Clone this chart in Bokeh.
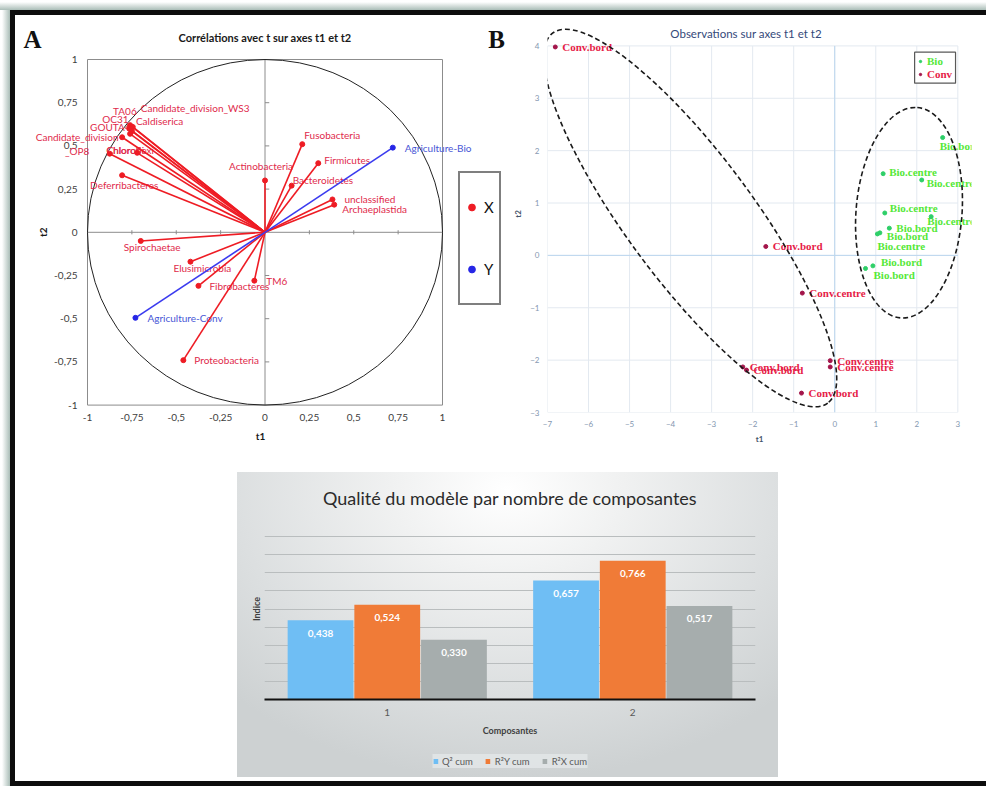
import math
from bokeh.plotting import figure
from bokeh.models import (Range1d, FactorRange, FixedTicker, ColumnDataSource, Legend,
                          LegendItem, Label, BoxAnnotation, Spacer)
from bokeh.layouts import row, column
from bokeh.transform import dodge
from bokeh.core.properties import value
from bokeh.embed import file_html
from bokeh.resources import INLINE

SANS = "Lato"
SERIF = "Liberation Serif"

# ---------------- Panel A data : correlations with t on axes t1 / t2 ----------------
A_X_NAMES = ["TA06", "Candidate_division_WS3", "OC31", "Caldiserica", "GOUTA4",
             "Candidate_division_OP8", "Chloroflexi", "Chlorobi", "Deferribacteres",
             "Actinobacteria", "Fusobacteria", "Firmicutes", "Bacteroidetes",
             "unclassified", "Archaeplastida", "Spirochaetae", "Elusimicrobia",
             "Fibrobacteres", "TM6", "Proteobacteria"]
A_X_T1 = [-0.76, -0.745, -0.765, -0.75, -0.76, -0.805, -0.72, -0.875, -0.805,
          0.0, 0.21, 0.30, 0.15, 0.38, 0.39, -0.70, -0.42, -0.375, -0.06, -0.46]
A_X_T2 = [0.62, 0.61, 0.60, 0.585, 0.57, 0.55, 0.46, 0.455, 0.33,
          0.30, 0.51, 0.40, 0.27, 0.19, 0.16, -0.05, -0.17, -0.31, -0.28, -0.74]
A_Y_NAMES = ["Agriculture-Bio", "Agriculture-Conv"]
A_Y_T1 = [0.72, -0.73]
A_Y_T2 = [0.49, -0.495]
A_TICKS = [-1, -0.75, -0.5, -0.25, 0, 0.25, 0.5, 0.75, 1]
A_TICK_LABELS = ["-1", "-0,75", "-0,5", "-0,25", "0", "0,25", "0,5", "0,75", "1"]
A_LEGEND = ["X", "Y"]

# label placement (screen pixels relative to the point) - layout only
A_X_DX = [-17, 8, -27, 4, -40, -45, -31, -3, -32, -4, 2, 6, 1, 12, 8, -17, -17, 11, 12, 11]
A_X_DY = [-14, -19, -10, -10, -7, 7, -3, -4, 10, -14, -9, -3, -6, 0, 4, 6, 6, 0, 0, 0]
A_X_ALIGN = ["left"] * 5 + ["center"] + ["left"] * 3 + ["center"] + ["left"] * 10
A_Y_DX = [12, 12]
A_Y_DY = [0, 0]

# ---------------- Panel B data : observations on axes t1 / t2 ----------------
B_CONV_T1 = [-6.81, -1.68, -0.79, -2.24, -2.15, -0.11, -0.11, -0.81]
B_CONV_T2 = [3.98, 0.17, -0.72, -2.13, -2.19, -2.01, -2.13, -2.63]
B_CONV_LABELS = ["Conv.bord", "Conv.bord", "Conv.centre", "Conv.bord", "Conv.bord",
                 "Conv.centre", "Conv.centre", "Conv.bord"]
B_BIO_T1 = [2.63, 1.18, 2.12, 1.22, 2.35, 1.33, 1.10, 1.04, 0.93, 0.75]
B_BIO_T2 = [2.25, 1.56, 1.44, 0.81, 0.74, 0.52, 0.43, 0.41, -0.20, -0.25]
B_BIO_LABELS = ["Bio.bord", "Bio.centre", "Bio.centre", "Bio.centre", "Bio.centre",
                "Bio.bord", "Bio.bord", "Bio.centre", "Bio.bord", "Bio.bord"]
B_GROUPS = ["Bio", "Conv"]
B_XTICKS = [-7, -6, -5, -4, -3, -2, -1, 0, 1, 2, 3]
B_YTICKS = [-3, -2, -1, 0, 1, 2, 3, 4]
# label placement (screen pixels)
B_CONV_DX = [7] * 8
B_CONV_DY = [0] * 8
B_BIO_DX = [-3, 6, 5, 5, -4, 7, 7, 0, 8, 8]
B_BIO_DY = [8, -2, 3, -5, 4, 0, 3, 12, -4, 7]
# hand-drawn dashed cluster outlines (centre in data, size in screen px)
B_OUTLINE_X = [-3.52, 1.81]
B_OUTLINE_Y = [0.714, 0.815]
B_OUTLINE_W = [461, 211]
B_OUTLINE_H = [126, 106]
B_OUTLINE_ANGLE = [-0.932, 1.492]

# ---------------- Panel C data : model quality ----------------
C_CATS = ["1", "2"]
C_SERIES = ["Q\u00b2 cum", "R\u00b2Y cum", "R\u00b2X cum"]
C_Q2 = [0.438, 0.657]
C_R2Y = [0.524, 0.766]
C_R2X = [0.330, 0.517]
C_GRID = [0.1, 0.2, 0.3, 0.4, 0.5, 0.6, 0.7, 0.8, 0.9, 1.0]

# ---------------- colours ----------------
RED_LINE = "#ee1c24"
RED_TEXT = "#e02a4b"
BLUE_LINE = "#3b3bef"
BLUE_TEXT = "#4756d6"
BIO_DOT = "#2ecf68"
BIO_TEXT = "#55e838"
CONV_DOT = "#a3154a"
CONV_TEXT = "#e61c47"
C_COLORS = ["#6fbef4", "#f07b37", "#a6adad"]
FRAME = "#0d0d0d"
AXIS_GREY = "#8c8c8c"

# ======================= Panel A =======================
# figure 495 x 457 ; frame spans the whole width (so long labels are not clipped)
A_W, A_H, A_BOTTOM = 495, 457, 60
A_PX_X, A_PX_Y = 177.5, 172.8          # pixels per unit
A_FRAME_W, A_FRAME_H = A_W - 5, A_H - A_BOTTOM
A_X0 = -1 - 72 / A_PX_X                 # unit box left edge 72 px inside the frame
A_Y1 = 1 + 44 / A_PX_Y                  # unit box top 44 px below the frame top
pA = figure(width=A_W, height=A_H,
            x_range=Range1d(A_X0, A_X0 + A_FRAME_W / A_PX_X),
            y_range=Range1d(A_Y1 - A_FRAME_H / A_PX_Y, A_Y1),
            output_backend="svg", toolbar_location=None, title=None,
            min_border_left=0, min_border_right=5, min_border_top=0,
            min_border_bottom=A_BOTTOM, x_axis_label="t1")
pA.yaxis.visible = False
pA.grid.visible = False
pA.outline_line_color = None
xa = pA.xaxis[0]
xa.ticker = FixedTicker(ticks=A_TICKS)
xa.bounds = (A_TICKS[0], A_TICKS[-1])
xa.major_label_overrides = dict(zip(A_TICKS, A_TICK_LABELS))
xa.axis_line_color = None
xa.major_tick_line_color = None
xa.minor_tick_line_color = None
xa.major_tick_out = 0
xa.major_tick_in = 0
xa.major_label_text_font = SANS
xa.major_label_text_font_size = "10px"
xa.major_label_text_color = "#404040"
xa.major_label_standoff = 1
xa.axis_label_text_font = SANS
xa.axis_label_text_font_size = "10px"
xa.axis_label_text_font_style = "bold"
xa.axis_label_text_color = "#1a1a1a"
xa.axis_label_standoff = 6

lo, hi = A_TICKS[0], A_TICKS[-1]
# plot-area box and zero axes with their small ticks
pA.quad(left=[lo], right=[hi], bottom=[lo], top=[hi], fill_color="white",
        line_color=AXIS_GREY, line_width=1)
pA.segment(x0=[lo, 0], y0=[0, lo], x1=[hi, 0], y1=[0, hi], line_color=AXIS_GREY, line_width=1)
inner = [t for t in A_TICKS if t not in (lo, 0, hi)]
tk = 0.012
pA.segment(x0=inner, y0=[-tk] * len(inner), x1=inner, y1=[tk] * len(inner),
           line_color=AXIS_GREY, line_width=1)
pA.segment(x0=[0] * len(inner), y0=inner, x1=[2 * tk] * len(inner), y1=inner,
           line_color=AXIS_GREY, line_width=1)
pA.ellipse(x=[0], y=[0], width=[hi - lo], height=[hi - lo], fill_color=None,
           line_color="#222222", line_width=1)
# y tick labels and axis title (left of the box)
pA.text(x=[lo] * len(A_TICKS), y=A_TICKS, text=A_TICK_LABELS, x_offset=-10,
        text_align="right", text_baseline="middle", text_font=value(SANS),
        text_font_size="10px", text_color="#404040")
pA.text(x=[lo], y=[0], text=["t2"], x_offset=-45, angle=math.pi / 2,
        text_align="center", text_baseline="middle", text_font=value(SANS),
        text_font_size="10px", text_font_style="bold", text_color="#1a1a1a")

disp = [n.replace("division_OP8", "division\n_OP8") for n in A_X_NAMES]
for align in ("left", "center"):
    idx = [i for i, a in enumerate(A_X_ALIGN) if a == align]
    s = ColumnDataSource(dict(x=[A_X_T1[i] for i in idx], y=[A_X_T2[i] for i in idx],
                              t=[disp[i] for i in idx], dx=[A_X_DX[i] for i in idx],
                              dy=[A_X_DY[i] for i in idx]))
    pA.text(x="x", y="y", text="t", x_offset="dx", y_offset="dy", source=s,
            text_font=value(SANS), text_font_size="10px", text_color=RED_TEXT,
            text_align=align, text_baseline="middle")
srcAY = ColumnDataSource(dict(x=A_Y_T1, y=A_Y_T2, t=A_Y_NAMES, dx=A_Y_DX, dy=A_Y_DY))
pA.text(x="x", y="y", text="t", x_offset="dx", y_offset="dy", source=srcAY,
        text_font=value(SANS), text_font_size="10px", text_color=BLUE_TEXT,
        text_align="left", text_baseline="middle")

srcAX = ColumnDataSource(dict(x=A_X_T1, y=A_X_T2))
pA.segment(x0=0, y0=0, x1="x", y1="y", source=srcAX, line_color=RED_LINE, line_width=1.6)
pA.segment(x0=0, y0=0, x1="x", y1="y", source=srcAY, line_color=BLUE_LINE, line_width=1.6)
rX = pA.scatter(x="x", y="y", source=srcAX, size=5, color=RED_LINE)
rY = pA.scatter(x="x", y="y", source=srcAY, size=5, color="#2626e6")

# title, panel letters and the X / Y legend box (inside the wide frame)
pA.add_layout(Label(x=0, y=1 + 22 / A_PX_Y, text="Corrélations avec t sur axes t1 et t2",
                    text_font=SANS, text_font_size="11px", text_font_style="bold",
                    text_align="center", text_baseline="middle", text_color="#1a1a1a"))
pA.add_layout(Label(x=-1 - 55 / A_PX_X, y=1 + 20 / A_PX_Y, text="A", text_font=SERIF,
                    text_font_style="bold", text_font_size="25px", text_align="center",
                    text_baseline="middle", text_color="#111111"))
pA.add_layout(Label(x=1 + 54 / A_PX_X, y=1 + 20 / A_PX_Y, text="B", text_font=SERIF,
                    text_font_style="bold", text_font_size="25px", text_align="center",
                    text_baseline="middle", text_color="#111111"))
legA = Legend(items=[LegendItem(label=A_LEGEND[0], renderers=[rX]),
                     LegendItem(label=A_LEGEND[1], renderers=[rY])],
              location=(443, 107), orientation="vertical", margin=0, padding=3, spacing=0,
              label_height=62, glyph_height=20, glyph_width=17, label_standoff=4,
              label_width=12, label_text_font=SANS, label_text_font_size="15px",
              label_text_color="#111111", border_line_color="black", border_line_width=2,
              background_fill_color="white", background_fill_alpha=1)
pA.add_layout(legA)

# ======================= Panel B =======================
B_W, B_H, B_LEFT, B_RIGHT = 476, 457, 36, 15
B_PX_X, B_PX_Y = 41.13, 52.37
B_FRAME_W, B_FRAME_H = B_W - B_LEFT - B_RIGHT, B_H - A_BOTTOM
bx0, bx1 = B_XTICKS[0], B_XTICKS[-1]
by0, by1 = B_YTICKS[0], B_YTICKS[-1]
pB = figure(width=B_W, height=B_H,
            x_range=Range1d(bx0, bx0 + B_FRAME_W / B_PX_X),
            y_range=Range1d(by0, by0 + B_FRAME_H / B_PX_Y),
            output_backend="svg", toolbar_location=None, title=None,
            min_border_left=B_LEFT, min_border_right=B_RIGHT, min_border_top=0,
            min_border_bottom=A_BOTTOM, x_axis_label="t1", y_axis_label="t2")
pB.grid.visible = False
pB.outline_line_color = None
pB.xaxis.ticker = FixedTicker(ticks=B_XTICKS)
pB.yaxis.ticker = FixedTicker(ticks=B_YTICKS)
pB.xaxis.bounds = (bx0, bx1)
pB.yaxis.bounds = (by0, by1)
for ax in (pB.xaxis[0], pB.yaxis[0]):
    ax.axis_line_color = None
    ax.major_tick_line_color = None
    ax.minor_tick_line_color = None
    ax.major_tick_out = 0
    ax.major_tick_in = 0
    ax.major_label_text_font = SANS
    ax.major_label_text_font_size = "8px"
    ax.major_label_text_color = "#8497b0"
    ax.axis_label_text_font = SANS
    ax.axis_label_text_font_size = "8px"
    ax.axis_label_text_font_style = "bold"
    ax.axis_label_text_color = "#44546a"
pB.xaxis.major_label_standoff = 8
pB.xaxis.axis_label_standoff = 4
pB.yaxis.major_label_standoff = 8
pB.yaxis.axis_label_standoff = 4
# plot-area gridlines limited to the axis extent
pB.segment(x0=B_XTICKS, y0=[by0] * len(B_XTICKS), x1=B_XTICKS, y1=[by1] * len(B_XTICKS),
           line_color="#e3e9f0", line_width=1)
pB.segment(x0=[bx0] * len(B_YTICKS), y0=B_YTICKS, x1=[bx1] * len(B_YTICKS), y1=B_YTICKS,
           line_color="#e3e9f0", line_width=1)
pB.segment(x0=[bx0, 0], y0=[0, by0], x1=[bx1, 0], y1=[0, by1],
           line_color="#bcd6ee", line_width=1)

srcConv = ColumnDataSource(dict(x=B_CONV_T1, y=B_CONV_T2, t=B_CONV_LABELS,
                                dx=B_CONV_DX, dy=B_CONV_DY))
srcBio = ColumnDataSource(dict(x=B_BIO_T1, y=B_BIO_T2, t=B_BIO_LABELS,
                               dx=B_BIO_DX, dy=B_BIO_DY))
pB.text(x="x", y="y", text="t", x_offset="dx", y_offset="dy", source=srcConv,
        text_font=value(SERIF), text_font_style="bold", text_font_size="11px",
        text_color=CONV_TEXT, text_align="left", text_baseline="middle")
pB.text(x="x", y="y", text="t", x_offset="dx", y_offset="dy", source=srcBio,
        text_font=value(SERIF), text_font_style="bold", text_font_size="11px",
        text_color=BIO_TEXT, text_align="left", text_baseline="middle")
rConv = pB.scatter(x="x", y="y", source=srcConv, size=4, color=CONV_DOT)
rBio = pB.scatter(x="x", y="y", source=srcBio, size=4, color=BIO_DOT)
pB.ellipse(x=B_OUTLINE_X, y=B_OUTLINE_Y, width=B_OUTLINE_W, height=B_OUTLINE_H,
           angle=B_OUTLINE_ANGLE, width_units="screen", height_units="screen",
           fill_color=None, line_color="#1a1a1a", line_width=1.6, line_dash="5 3")

pB.add_layout(Label(x=-2.16, y=by1 + 12.5 / B_PX_Y, text="Observations sur axes t1 et t2",
                    text_font=SANS, text_font_size="11.5px", text_align="center",
                    text_baseline="middle", text_color="#34497a"))
pB.add_layout(BoxAnnotation(left=1.947, right=2.944, top=3.88, bottom=3.288,
                            fill_color="white", fill_alpha=1, line_color="#595959",
                            line_width=1.2, line_alpha=1))
for grp, rend, col, loc in ((B_GROUPS[0], rBio, BIO_TEXT, (370, 345)),
                            (B_GROUPS[1], rConv, CONV_TEXT, (370, 332.5))):
    lg = Legend(items=[LegendItem(label=grp, renderers=[rend])], location=loc,
                margin=0, padding=0, spacing=0, glyph_width=6, glyph_height=12,
                label_height=12, label_standoff=4, label_text_font=SERIF,
                label_text_font_style="bold", label_text_font_size="11px",
                label_text_color=col, border_line_color=None, background_fill_alpha=0)
    pB.add_layout(lg)

# ======================= Panel C =======================
pC = figure(width=541, height=276, x_range=FactorRange(factors=C_CATS, range_padding=0),
            y_range=Range1d(0, 1), output_backend="svg", toolbar_location=None,
            min_border_left=27, min_border_right=23, min_border_top=46, min_border_bottom=49,
            x_axis_label="Composantes", y_axis_label="Indice")
pC.background_fill_color = None
pC.border_fill_color = None
pC.outline_line_color = None
pC.title.text = "Qualité du modèle par nombre de composantes"
pC.title.align = "center"
pC.title.text_font = SANS
pC.title.text_font_size = "18px"
pC.title.text_font_style = "normal"
pC.title.text_color = "#2b2b2b"
pC.title.standoff = 20
pC.xgrid.visible = False
pC.ygrid.ticker = FixedTicker(ticks=C_GRID)
pC.ygrid.grid_line_color = "#b9bdbe"
pC.yaxis.ticker = FixedTicker(ticks=[])
pC.yaxis.major_label_standoff = 0
pC.yaxis.major_tick_line_color = None
pC.yaxis.minor_tick_line_color = None
pC.yaxis.major_tick_out = 0
pC.yaxis.axis_line_color = None
pC.yaxis.axis_label_standoff = 3
for ax in (pC.xaxis[0], pC.yaxis[0]):
    ax.axis_label_text_font = SANS
    ax.axis_label_text_font_size = "9px"
    ax.axis_label_text_font_style = "bold"
    ax.axis_label_text_color = "#404040"
pC.xaxis.axis_line_color = "#111111"
pC.xaxis.axis_line_width = 1.8
pC.xaxis.major_tick_line_color = None
pC.xaxis.major_tick_out = 0
pC.xaxis.major_label_standoff = 9
pC.xaxis.major_label_text_font = SANS
pC.xaxis.major_label_text_font_size = "10px"
pC.xaxis.major_label_text_color = "#595959"
pC.xaxis.axis_label_standoff = 6

fmt = lambda v: f"{v:.3f}".replace(".", ",")
srcC = ColumnDataSource(dict(cat=C_CATS, q2=C_Q2, r2y=C_R2Y, r2x=C_R2X,
                             q2_t=[fmt(v) for v in C_Q2], r2y_t=[fmt(v) for v in C_R2Y],
                             r2x_t=[fmt(v) for v in C_R2X]))
# small strip under the chart holding its legend
pCL = figure(width=541, height=26, x_range=pC.x_range, y_range=Range1d(0, 1),
             output_backend="svg", toolbar_location=None, title=None,
             x_axis_type=None, y_axis_type=None, min_border=0)
pCL.background_fill_color = None
pCL.border_fill_color = None
pCL.outline_line_color = None
pCL.grid.visible = False

step = 0.2717
items = []
for k, (col, fld) in enumerate(zip(C_COLORS, ("q2", "r2y", "r2x"))):
    off = (k - 1) * step
    pC.vbar(x=dodge("cat", off, range=pC.x_range), top=fld, width=0.268, source=srcC,
            fill_color=col, line_color=None)
    pC.text(x=dodge("cat", off, range=pC.x_range), y=fld, text=fld + "_t", source=srcC,
            y_offset=13, text_align="center", text_baseline="middle", text_color="white",
            text_font=value(SANS), text_font_style="bold", text_font_size="10px")
    rl = pCL.vbar(x=dodge("cat", off, range=pC.x_range), top=fld, width=0.268, source=srcC,
                  fill_color=col, line_color=None, visible=False)
    items.append(LegendItem(label=C_SERIES[k], renderers=[rl]))
legC = Legend(items=items, orientation="horizontal", location="center", margin=0,
              padding=3, spacing=12, glyph_width=6, glyph_height=6, label_height=14,
              label_standoff=4, label_text_font=SANS, label_text_font_size="9.5px",
              label_text_color="#595959", border_line_color=None,
              background_fill_color="#e4e7e8", background_fill_alpha=0.8)
pCL.add_layout(legC)

c_block = column(pC, pCL, Spacer(width=541, height=3),
                 styles={"background": "radial-gradient(ellipse 72% 95% at 50% 6%, #ffffff 0%, "
                                       "#f0f1f1 30%, #dcdfe0 70%, #cdd1d2 100%)"})

# ======================= page layout with the black frame =======================
def bar(w, h):
    return Spacer(width=w, height=h, styles={"background-color": FRAME})

top_row = row(pA, pB)
bottom_row = row(Spacer(width=222, height=305), c_block)
content = column(top_row, bottom_row, Spacer(width=971, height=4))
frame_block = column(bar(976, 5), row(bar(5, 766), content), bar(976, 5))
page = column(
    Spacer(width=986, height=10,
           styles={"background": "linear-gradient(to bottom, #ffffff 20%, #aabdb7 100%)"}),
    row(Spacer(width=10, height=776,
               styles={"background": "linear-gradient(to right, #ffffff 20%, #aabdb7 100%)"}),
        frame_block))

open("out.html", "w").write(file_html(page, INLINE))
